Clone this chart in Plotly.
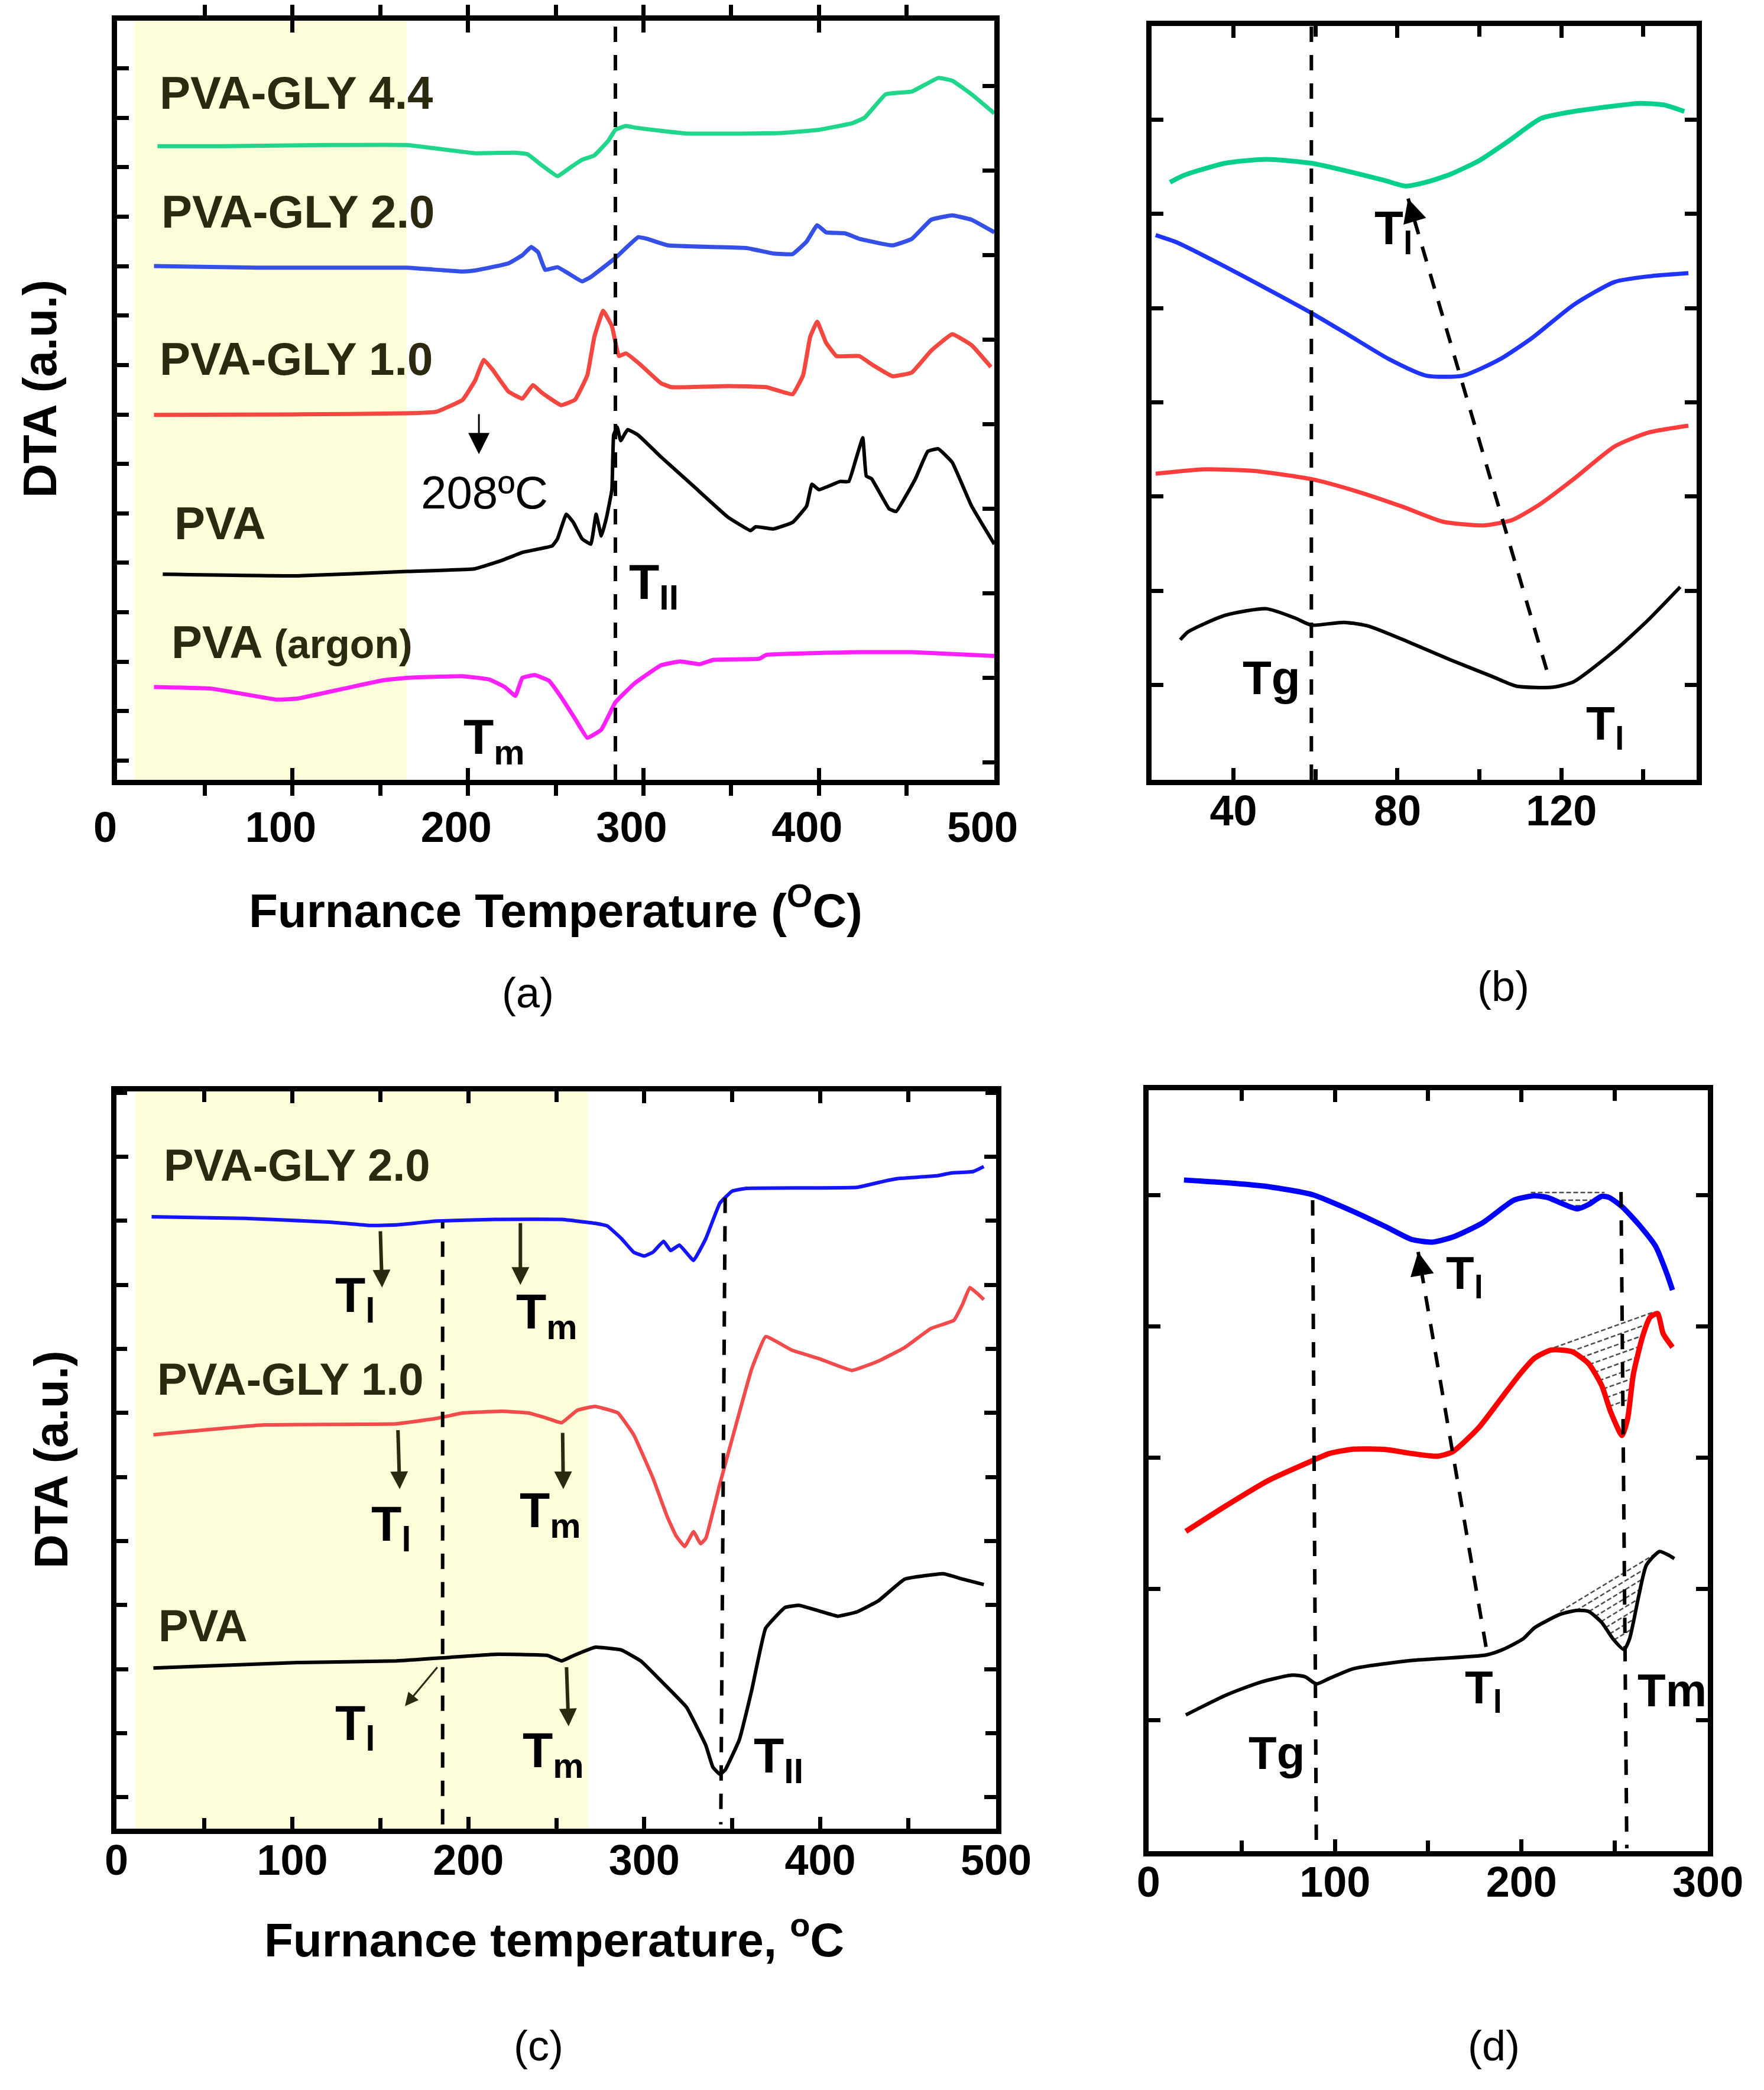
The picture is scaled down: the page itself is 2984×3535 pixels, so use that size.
import numpy as np
import plotly.graph_objects as go

FONT = "Liberation Sans"
INK = "#2b2a10"

# ---------------- panel (a): DTA scans to 500 C ----------------
a_gly44_x = [23, 60, 120, 165, 204, 227, 234, 242, 251, 258, 265, 272, 280, 284, 290, 295, 310, 325, 350, 378,
             400, 419, 426, 438, 445, 453, 468, 476, 487, 500]
a_gly44_y = [116.2, 116.2, 116.4, 116.4, 114.9, 115.0, 114.7, 112.7, 110.7, 112.2, 113.7, 114.5, 117.2, 119.2,
             119.9, 119.6, 119.0, 118.5, 118.5, 118.6, 119.2, 120.4, 121.4, 125.7, 126.0, 126.2, 128.7, 128.2,
             125.7, 122.2]
a_gly20_x = [21, 80, 165, 197, 204, 223, 231, 236, 240, 244, 251, 257, 265, 270, 284, 297, 302, 314, 340, 359,
             374, 385, 393, 399, 404, 415, 423, 442, 453, 464, 476, 487, 500]
a_gly20_y = [94.2, 93.9, 93.9, 93.2, 93.4, 94.7, 96.2, 97.7, 96.7, 93.5, 94.0, 92.9, 91.4, 92.2, 95.7, 99.5, 99.2,
             98.0, 97.7, 97.5, 96.5, 96.4, 98.7, 101.7, 100.4, 100.2, 99.2, 98.0, 99.2, 102.7, 103.5, 102.7, 100.4]
a_gly10_x = [21, 100, 165, 182, 197, 204, 209, 214, 223, 231, 237, 242, 253, 261, 268, 272, 277, 282, 286, 290,
             298, 310, 316, 348, 370, 385, 391, 395, 399, 404, 410, 423, 430, 442, 453, 464, 476, 487, 498]
a_gly10_y = [66.9, 67.0, 67.2, 67.5, 69.7, 73.2, 77.0, 75.2, 71.2, 69.9, 72.4, 71.0, 68.7, 69.7, 74.2, 81.2, 86.0,
             83.2, 77.7, 78.2, 76.2, 72.7, 72.0, 72.2, 72.0, 70.7, 74.2, 81.2, 84.0, 80.2, 77.7, 77.7, 76.2, 74.0,
             74.7, 78.7, 81.7, 79.7, 75.7]
a_pva_x = [26, 103, 165, 204, 219, 231, 248, 251, 256, 260, 265, 270, 273, 276, 279, 282, 283, 285, 287, 291,
           297, 310, 329, 348, 361, 364, 374, 385, 393, 396, 400, 412, 417, 421, 425, 427, 430, 440, 444, 455,
           462, 468, 476, 487, 500]
a_pva_y = [37.7, 37.4, 38.2, 38.7, 40.2, 41.7, 42.9, 44.2, 48.7, 47.2, 44.2, 43.2, 48.7, 44.7, 48.2, 53.2, 63.2,
           64.7, 62.2, 64.2, 63.2, 59.2, 53.7, 48.2, 45.7, 46.4, 46.0, 47.2, 50.2, 54.2, 53.2, 54.7, 54.7, 58.7,
           62.7, 55.7, 55.2, 49.7, 49.2, 55.2, 60.2, 60.7, 58.2, 50.2, 43.2]
a_argon_x = [21, 54, 91, 103, 129, 151, 165, 197, 212, 221, 227, 231, 238, 246, 253, 261, 268, 276, 284, 295,
             310, 321, 332, 340, 366, 370, 423, 453, 500]
a_argon_y = [17.0, 16.7, 14.7, 14.9, 16.7, 18.2, 18.7, 19.0, 18.4, 17.0, 15.4, 18.7, 19.2, 18.2, 15.2, 11.2, 7.7,
             9.2, 14.2, 17.7, 21.0, 21.7, 21.2, 22.0, 22.2, 22.9, 23.4, 23.4, 22.7]

# ---------------- panel (b): zoom 20-150 C ----------------
b_gly44_x = [24.5, 28, 38, 48, 59, 68, 77, 82, 87, 93, 100, 107, 115, 123, 133, 139, 145, 150]
b_gly44_y = [109.7, 111.0, 113.2, 113.9, 113.2, 111.7, 110.0, 109.0, 109.7, 111.2, 113.7, 117.2, 121.4, 122.7,
             123.7, 124.2, 123.9, 122.7]
b_gly20_x = [21, 26, 38, 48, 59, 68, 78, 87, 96, 105, 113, 123, 133, 141, 151]
b_gly20_y = [100.0, 98.7, 94.2, 90.2, 85.7, 81.7, 77.2, 74.2, 74.2, 77.2, 81.2, 87.2, 91.4, 92.4, 93.0]
b_gly10_x = [21, 33, 45, 59, 69, 81, 91, 101, 108, 115, 123, 133, 141, 151]
b_gly10_y = [56.2, 57.0, 56.7, 55.2, 53.2, 50.2, 47.4, 46.7, 47.7, 50.7, 55.2, 61.2, 63.7, 65.0]
b_pva_x = [27, 29, 38, 48, 55, 59, 67, 73, 83, 93, 103, 109, 118, 123, 133, 141, 149]
b_pva_y = [25.7, 27.2, 30.2, 31.4, 29.7, 28.4, 28.9, 28.2, 25.2, 22.0, 19.0, 17.2, 17.0, 18.0, 23.7, 29.2, 35.4]

# ---------------- panel (c): second set of scans ----------------
c_gly20_x = [20, 73, 122, 144, 159, 182, 215, 253, 272, 279, 287, 294, 300, 305, 311, 315, 320, 328, 335, 343,
             350, 358, 421, 436, 444, 466, 474, 487, 493]
c_gly20_y = [112.3, 112.0, 111.3, 110.7, 110.8, 111.5, 111.8, 111.8, 111.1, 110.6, 108.3, 105.8, 105.1, 105.8,
             107.8, 106.1, 107.1, 104.3, 108.3, 114.8, 117.0, 117.5, 117.7, 118.8, 119.3, 119.8, 120.3, 120.6, 121.5]
c_gly10_x = [21, 84, 159, 182, 197, 219, 234, 245, 253, 262, 272, 285, 294, 305, 313, 318, 323, 328, 332, 335,
             343, 354, 361, 369, 384, 399, 418, 433, 448, 463, 476, 481, 485, 489, 493]
c_gly10_y = [72.3, 74.1, 74.3, 75.3, 76.3, 76.6, 76.3, 75.3, 74.5, 76.8, 77.5, 76.3, 72.3, 64.3, 57.3, 53.8, 51.8,
             54.5, 52.3, 53.3, 63.3, 76.3, 84.3, 90.3, 87.8, 86.3, 84.1, 85.8, 88.3, 91.8, 93.3, 96.3, 99.3, 98.3, 97.1]
c_pva_x = [21, 103, 159, 215, 245, 253, 260, 272, 287, 298, 309, 324, 335, 339, 343, 346, 354, 361, 369, 380,
           388, 399, 410, 421, 433, 448, 470, 481, 493]
c_pva_y = [29.5, 30.5, 30.8, 32.0, 31.8, 30.8, 31.8, 33.3, 32.8, 30.8, 27.3, 22.3, 15.3, 11.3, 10.0, 10.8, 16.3,
           25.3, 36.8, 40.6, 41.0, 40.0, 39.0, 39.8, 41.8, 45.8, 46.8, 45.8, 44.8]

# ---------------- panel (d): zoom 20-280 C ----------------
d_gly20_x = [19, 42, 64, 88, 108, 128, 141, 152, 163, 179, 196, 207, 214, 221, 230, 236, 243, 247, 254, 263,
             272, 278, 281]
d_gly20_y = [123.2, 122.7, 122.0, 120.5, 117.7, 114.5, 112.3, 111.8, 112.7, 115.3, 119.5, 120.3, 120.0, 119.0,
             117.9, 118.7, 120.2, 120.0, 118.3, 115.0, 111.0, 106.0, 103.0]
d_gly10_x = [20, 42, 64, 88, 97, 110, 128, 141, 155, 163, 177, 190, 199, 207, 216, 227, 236, 243, 248, 254,
             257, 260, 265, 269, 273, 276, 281]
d_gly10_y = [58.7, 63.5, 68.0, 71.7, 73.0, 73.8, 73.7, 73.0, 72.5, 73.3, 77.7, 83.5, 87.5, 90.5, 92.0, 91.7,
             89.5, 85.5, 80.5, 76.3, 79.5, 87.5, 94.5, 98.0, 98.7, 95.0, 92.5]
d_pva_x = [20, 42, 60, 77, 84, 90, 97, 110, 141, 181, 190, 201, 207, 221, 230, 236, 243, 249, 255, 258, 263,
           267, 274, 278, 282]
d_pva_y = [25.0, 28.7, 31.0, 32.3, 32.0, 30.7, 31.7, 33.5, 35.0, 36.0, 37.0, 39.0, 41.0, 43.5, 44.2, 44.0,
           42.0, 39.0, 37.0, 39.0, 47.0, 52.5, 55.0, 54.5, 53.7]

x_ticks_a = [0, 100, 200, 300, 400, 500]
x_ticks_b = [40, 80, 120]
x_ticks_d = [0, 100, 200, 300]


fig = go.Figure()


def curve(xa, ya, xs, ys, color, width, smooth=0.0):
    fig.add_trace(go.Scatter(
        x=xs, y=ys, xaxis=xa, yaxis=ya, mode="lines",
        line=dict(color=color, width=width, shape="spline" if smooth else "linear",
                  smoothing=smooth if smooth else None),
        showlegend=False, hoverinfo="skip"
    ))


def text(xa, ya, x, y, s, size=78, color=INK, bold=True, xanchor="left"):
    fig.add_annotation(
        x=x, y=y, xref=xa, yref=ya, text=s, showarrow=False, xanchor=xanchor, yanchor="middle",
        font=dict(family=FONT, size=size, color=color, weight="bold" if bold else "normal")
    )


def arrow(xa, ya, tail, head, width=6, size=1.0, color=INK):
    fig.add_annotation(
        x=head[0], y=head[1], ax=tail[0], ay=tail[1], xref=xa, yref=ya, axref=xa, ayref=ya,
        text="", showarrow=True, arrowhead=2, arrowsize=size, arrowwidth=width, arrowcolor=color
    )


def dashed(xa, ya, p0, p1, width=6):
    fig.add_shape(type="line", xref=xa, yref=ya, x0=p0[0], y0=p0[1], x1=p1[0], y1=p1[1],
                  line=dict(color="black", width=width, dash="26px,22px"))


def dashed_arrow(xa, ya, tail, head):
    dashed(xa, ya, tail, head)
    vx, vy = head[0] - tail[0], head[1] - tail[1]
    arrow(xa, ya, (head[0] - 0.07 * vx, head[1] - 0.07 * vy), head, width=5, size=1.6, color="black")


def hatch(xs, ys, p0, p1, offsets):
    # thin dashed lines parallel to the chord p0-p1, clipped where they sit above the curve
    gx = np.linspace(p0[0], p1[0], 800)
    gy = np.interp(gx, xs, ys)
    k = (p1[1] - p0[1]) / (p1[0] - p0[0])
    hx, hy = [], []
    for off in offsets:
        ly = p0[1] + k * (gx - p0[0]) - off
        ok = gx[ly >= gy]
        if len(ok) < 2:
            continue
        x0, x1 = ok.min(), ok.max()
        hx += [x0, x1, None]
        hy += [p0[1] + k * (x0 - p0[0]) - off, p0[1] + k * (x1 - p0[0]) - off, None]
    fig.add_trace(go.Scatter(x=hx, y=hy, xaxis="x4", yaxis="y4", mode="lines",
                             line=dict(color="#4d4d4d", width=2.5, dash="8px,4px"),
                             showlegend=False, hoverinfo="skip"))


# ---- (a)
curve("x", "y", a_gly44_x, a_gly44_y, "#1fd68a", 7, 0.3)
curve("x", "y", a_gly20_x, a_gly20_y, "#3550e6", 7, 0.3)
curve("x", "y", a_gly10_x, a_gly10_y, "#f4473f", 7, 0.3)
curve("x", "y", a_pva_x, a_pva_y, "black", 6, 0.3)
curve("x", "y", a_argon_x, a_argon_y, "#ff1fff", 7, 0.3)
fig.add_trace(go.Scatter(x=[None], y=[None], xaxis="x", yaxis="y5", showlegend=False, hoverinfo="skip"))

# ---- (b)
curve("x2", "y2", b_gly44_x, b_gly44_y, "#05cf8c", 8, 0.6)
curve("x2", "y2", b_gly20_x, b_gly20_y, "#1f35ff", 7, 0.6)
curve("x2", "y2", b_gly10_x, b_gly10_y, "#ff3d3d", 7, 0.6)
curve("x2", "y2", b_pva_x, b_pva_y, "black", 6, 0.6)

# ---- (c)
curve("x3", "y3", c_gly20_x, c_gly20_y, "#1414ff", 6, 0.3)
curve("x3", "y3", c_gly10_x, c_gly10_y, "#f24b4b", 6, 0.3)
curve("x3", "y3", c_pva_x, c_pva_y, "black", 6, 0.3)

# ---- (d)
hatch(d_gly20_x, d_gly20_y, (205, 120.9), (244.6, 120.9), [0, 1.4, 2.4])
hatch(d_gly10_x, d_gly10_y, (214, 92.0), (270.4, 98.9), [0, 1.8, 3.6, 5.4, 7.2, 9.0, 10.8, 12.6, 14.4])
hatch(d_pva_x, d_pva_y, (220.8, 44.0), (271.5, 54.5), [0, 1.6, 3.2, 4.8, 6.4, 8.0, 9.6, 11.2])
curve("x4", "y4", d_gly20_x, d_gly20_y, "#0000ff", 9, 0.6)
curve("x4", "y4", d_gly10_x, d_gly10_y, "#ff0000", 9, 0.6)
curve("x4", "y4", d_pva_x, d_pva_y, "black", 6, 0.6)

# shaded regions
fig.add_shape(type="rect", xref="x", yref="y domain", x0=10, x1=165, y0=0, y1=1,
              fillcolor="#fefdd9", line=dict(width=0), layer="below")
fig.add_shape(type="rect", xref="x3", yref="y3 domain", x0=11, x1=268, y0=0, y1=1,
              fillcolor="#fefdd9", line=dict(width=0), layer="below")

# dashed guide lines
dashed("x", "y", (284, 0), (284, 139.2))
dashed("x2", "y2", (59, 0), (59, 138.4))
dashed("x3", "y3", (185.4, 0.8), (185.4, 111.3))
dashed("x3", "y3", (346, 115.8), (343.5, 0.8))
dashed("x4", "y4", (88, 119.5), (90, 0.5))
dashed("x4", "y4", (253.4, 121.0), (256.5, 0.5))
dashed_arrow("x2", "y2", (116.4, 20.2), (82.6, 106.7))
dashed_arrow("x4", "y4", (181, 37.5), (144.6, 110))

# labels (a)
text("x", "y", 23.5, 126.0, "PVA-GLY 4.4")
text("x", "y", 24.7, 104.2, "PVA-GLY 2.0")
text("x", "y", 23.5, 77.2, "PVA-GLY 1.0")
text("x", "y", 31.8, 47.0, "PVA")
text("x", "y", 30.3, 25.2, "PVA <span style='font-size:68px'>(argon)</span>")
text("x", "y", 172.6, 52.7, "208ºC", size=78, color="black", bold=False)
arrow("x", "y", (206.2, 67.2), (206.2, 59.7), width=3, size=2.4, color="black")
text("x", "y", 291, 35.7, "T<sub>II</sub>", size=84, color="black")
text("x", "y", 196.8, 7.2, "T<sub>m</sub>", size=84, color="black")

# labels (b)
text("x2", "y2", 42, 18.7, "Tg", size=80, color="black")
text("x2", "y2", 74.1, 100.7, "T<sub>l</sub>", size=80, color="black")
text("x2", "y2", 125.7, 9.7, "T<sub>l</sub>", size=80, color="black")

# labels (c)
text("x3", "y3", 26.2, 121.8, "PVA-GLY 2.0", size=76)
text("x3", "y3", 22.5, 82.5, "PVA-GLY 1.0", size=76)
text("x3", "y3", 23.2, 37.3, "PVA", size=76)
arrow("x3", "y3", (150, 109.8), (151, 99.3))
arrow("x3", "y3", (229.6, 111.3), (229.6, 99.8))
arrow("x3", "y3", (160, 73.3), (161, 62.3))
arrow("x3", "y3", (253.6, 72.8), (254, 62.3))
arrow("x3", "y3", (255.8, 29.8), (257, 18.8))
arrow("x3", "y3", (182.8, 29.8), (164, 22.5), width=3, size=1.5)
text("x3", "y3", 123.6, 97.3, "T<sub>l</sub>", size=84, color="black")
text("x3", "y3", 226.6, 94.3, "T<sub>m</sub>", size=84, color="black")
text("x3", "y3", 144.2, 55.3, "T<sub>l</sub>", size=84, color="black")
text("x3", "y3", 228.5, 57.8, "T<sub>m</sub>", size=84, color="black")
text("x3", "y3", 123.6, 18.8, "T<sub>l</sub>", size=84, color="black")
text("x3", "y3", 230.3, 13.8, "T<sub>m</sub>", size=84, color="black")
text("x3", "y3", 361.4, 12.8, "T<sub>II</sub>", size=84, color="black")

# labels (d)
text("x4", "y4", 159, 105.5, "T<sub>l</sub>", size=78, color="black")
text("x4", "y4", 169, 29.5, "T<sub>l</sub>", size=78, color="black")
text("x4", "y4", 261.6, 29.5, "Tm", size=78, color="black")
text("x4", "y4", 53, 18, "Tg", size=78, color="black")


def paper_text(x, y, s, size, bold=True, angle=0):
    fig.add_annotation(x=x, y=y, xref="paper", yref="paper", text=s, showarrow=False,
                       xanchor="center", yanchor="middle", textangle=angle,
                       font=dict(family=FONT, size=size, color="black", weight="bold" if bold else "normal"))


paper_text(0.0228, 0.8139, "DTA (a.u.)", 80, angle=-90)
paper_text(0.0288, 0.3018, "DTA (a.u.)", 80, angle=-90)
paper_text(0.315, 0.5660, "Furnance Temperature (<sup>O</sup>C)", 80)
paper_text(0.3143, 0.0735, "Furnance temperature, <sup>o</sup>C", 80)
paper_text(0.2993, 0.525, "(a)", 72, bold=False)
paper_text(0.8522, 0.5281, "(b)", 72, bold=False)
paper_text(0.3053, 0.0212, "(c)", 72, bold=False)
paper_text(0.8469, 0.0212, "(d)", 72, bold=False)

tick_font = dict(family=FONT, size=72, color="black", weight="bold")


def frame(**kw):
    base = dict(showline=True, linewidth=9, linecolor="black", mirror="ticks", ticks="inside",
                ticklen=20, tickwidth=7, tickcolor="black", showgrid=False, zeroline=False,
                tickfont=tick_font, fixedrange=True, automargin=False)
    base.update(kw)
    return base


minor = dict(ticklen=18, tickwidth=7, tickcolor="black", showgrid=False)
nb = "\u00a0\u00a0"

fig.update_layout(
    width=2984, height=3535,
    margin=dict(l=0, r=0, t=0, b=0, autoexpand=False),
    paper_bgcolor="white", plot_bgcolor="white",
    showlegend=False,
    xaxis=frame(domain=[0.0664, 0.5637], anchor="y", range=[0, 500], tickvals=x_ticks_a,
                ticktext=[f"{v}{nb}" for v in x_ticks_a],
                minor=dict(dtick=50, ticks="outside", **minor), ticklabelstandoff=10),
    yaxis=frame(domain=[0.6269, 0.9901], anchor="x", range=[0, 139.2], tick0=3.5, dtick=9.07,
                showticklabels=False, mirror=True),
    yaxis5=dict(overlaying="y", side="right", anchor="x", range=[0, 139.2], tick0=3.2, dtick=15.5,
                ticks="inside", ticklen=20, tickwidth=7, tickcolor="black", showline=False,
                showgrid=False, zeroline=False, showticklabels=False, fixedrange=True, automargin=False),
    xaxis2=frame(domain=[0.6528, 0.9618], anchor="y2", range=[20, 153], tickvals=x_ticks_b,
                 minor=dict(tick0=20, dtick=20, ticks="inside", **minor), ticklabelstandoff=-18),
    yaxis2=frame(domain=[0.6269, 0.9876], anchor="x2", range=[0, 138.4], tick0=17.4, dtick=17.3,
                 showticklabels=False),
    xaxis3=frame(domain=[0.0660, 0.5647], anchor="y3", range=[0, 500], tickvals=x_ticks_a,
                 minor=dict(dtick=50, ticks="inside", **minor), ticklabelstandoff=-18),
    yaxis3=frame(domain=[0.1250, 0.4778], anchor="x3", range=[0, 135.3], tick0=5.8, dtick=23.5,
                 minor=dict(tick0=5.8, dtick=11.75, ticks="inside", **minor), showticklabels=False),
    xaxis4=frame(domain=[0.6511, 0.9682], anchor="y4", range=[0, 300], tickvals=x_ticks_d,
                 minor=dict(dtick=50, ticks="inside", **minor), ticklabelstandoff=-18),
    yaxis4=frame(domain=[0.1143, 0.4784], anchor="x4", range=[0, 139.7], tick0=24.0, dtick=24.1,
                 showticklabels=False),
)

fig.write_html("out.html", config={"displayModeBar": False},
               post_script="document.body.style.margin='0';document.body.style.overflow='hidden';")
